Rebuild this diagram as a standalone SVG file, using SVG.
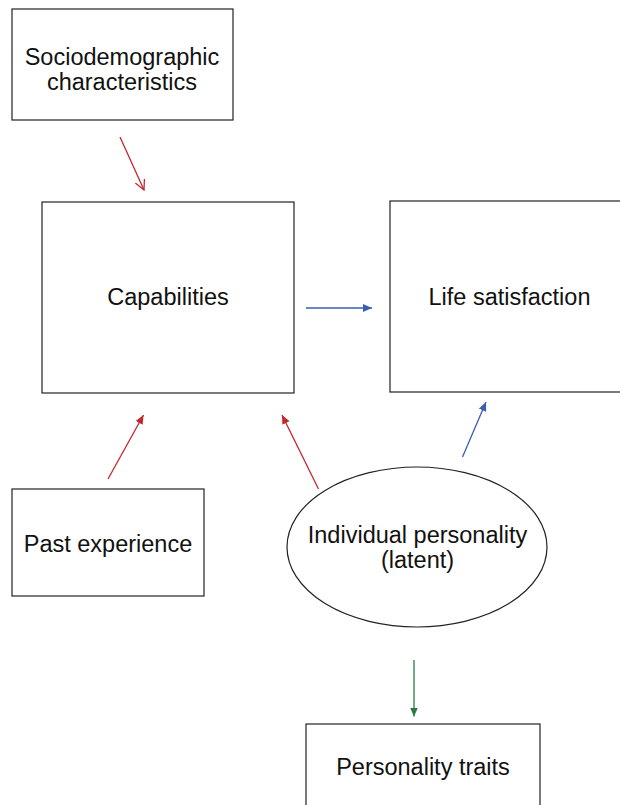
<svg xmlns="http://www.w3.org/2000/svg" width="620" height="805" viewBox="0 0 620 805">
<style>
.box{fill:#fff;stroke:#222;stroke-width:1.2}
.t{font-family:"Liberation Sans",Arial,sans-serif;font-size:23.5px;fill:#111;text-anchor:middle}
.red{stroke:#c4262e;stroke-width:1.3;fill:none}
.blue{stroke:#3b5eb0;stroke-width:1.3;fill:none}
.green{stroke:#2a7a45;stroke-width:1.3;fill:none}
</style>
<defs>
<marker id="ho" markerUnits="userSpaceOnUse" markerWidth="14" markerHeight="14" refX="10" refY="5" orient="auto"><path d="M0,0 L10,5 L0,10" fill="none" stroke="#c4262e" stroke-width="1.3"/></marker>
<marker id="hr" markerUnits="userSpaceOnUse" markerWidth="12" markerHeight="12" refX="9" refY="4" orient="auto"><path d="M0,0 L9,4 L0,8 Z" fill="#c4262e"/></marker>
<marker id="hb" markerUnits="userSpaceOnUse" markerWidth="12" markerHeight="12" refX="9" refY="4" orient="auto"><path d="M0,0 L9,4 L0,8 Z" fill="#3b5eb0"/></marker>
<marker id="hg" markerUnits="userSpaceOnUse" markerWidth="12" markerHeight="12" refX="9" refY="4" orient="auto"><path d="M0,0 L9,4 L0,8 Z" fill="#2a7a45"/></marker>
</defs>
<rect width="620" height="805" fill="#fff"/>
<g id="socio"><rect class="box" x="12" y="9" width="221" height="111"/><text class="t" x="122" y="65">Sociodemographic</text><text class="t" x="122" y="90">characteristics</text></g>
<g id="capabilities"><rect class="box" x="42" y="202" width="252" height="191"/><text class="t" x="168" y="305">Capabilities</text></g>
<g id="life"><rect class="box" x="390" y="201" width="240" height="191"/><text class="t" x="509.5" y="305">Life satisfaction</text></g>
<g id="past"><rect class="box" x="12" y="489" width="192" height="107"/><text class="t" x="108" y="552">Past experience</text></g>
<g id="personality"><ellipse class="box" cx="417" cy="547" rx="130" ry="80"/><text class="t" x="417.5" y="543">Individual personality</text><text class="t" x="417.5" y="568">(latent)</text></g>
<g id="traits"><rect class="box" x="306" y="724" width="234" height="100"/><text class="t" x="423" y="775">Personality traits</text></g>
<g id="connectors">
<line class="red" x1="120" y1="137" x2="144" y2="190" marker-end="url(#ho)"/>
<line class="blue" x1="306" y1="308" x2="372" y2="308" marker-end="url(#hb)"/>
<line class="red" x1="108" y1="479" x2="143.5" y2="415" marker-end="url(#hr)"/>
<line class="red" x1="318.5" y1="489" x2="282" y2="415" marker-end="url(#hr)"/>
<line class="blue" x1="462.5" y1="457" x2="486" y2="402" marker-end="url(#hb)"/>
<line class="green" x1="414" y1="660" x2="414" y2="716.5" marker-end="url(#hg)"/>
</g>
</svg>
